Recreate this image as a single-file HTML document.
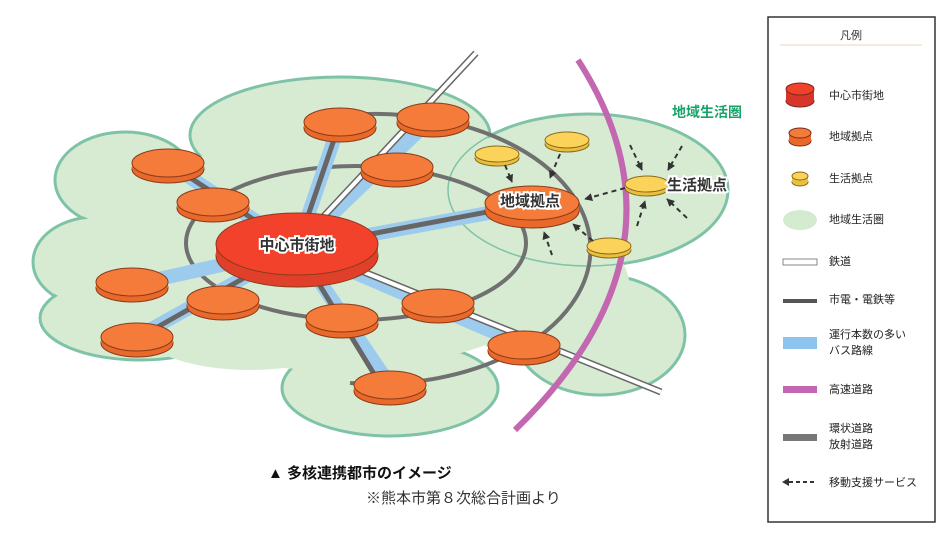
<!DOCTYPE html>
<html><head><meta charset="utf-8"><style>
html,body{margin:0;padding:0;background:#fff;}
svg{display:block;font-family:"Liberation Sans","Noto Sans CJK JP",sans-serif;}
</style></head><body>
<svg width="945" height="540" viewBox="0 0 945 540" xmlns="http://www.w3.org/2000/svg">
<defs>
<marker id="ah" viewBox="0 0 10 10" refX="9" refY="5" markerWidth="4" markerHeight="4" orient="auto"><path d="M0,0L10,5L0,10z" fill="#333"/></marker>
</defs>
<g fill="#d6ebd2" stroke="#7fc3a6" stroke-width="3">
<ellipse cx="340" cy="135" rx="150" ry="58"/>
<ellipse cx="125" cy="180" rx="70" ry="48"/>
<ellipse cx="95" cy="262" rx="62" ry="45"/>
<ellipse cx="140" cy="318" rx="100" ry="42"/>
<ellipse cx="390" cy="388" rx="108" ry="48"/>
<ellipse cx="600" cy="335" rx="85" ry="60"/>
<ellipse cx="588" cy="190" rx="140" ry="76"/>
</g>
<g fill="#d6ebd2">
<ellipse cx="340" cy="135" rx="148" ry="56"/>
<ellipse cx="125" cy="180" rx="68" ry="46"/>
<ellipse cx="95" cy="262" rx="60" ry="43"/>
<ellipse cx="140" cy="318" rx="98" ry="40"/>
<ellipse cx="390" cy="388" rx="106" ry="46"/>
<ellipse cx="600" cy="335" rx="83" ry="58"/>
<ellipse cx="330" cy="255" rx="250" ry="115"/>
<ellipse cx="540" cy="290" rx="90" ry="70"/>
<ellipse cx="250" cy="320" rx="120" ry="50"/>
</g>
<ellipse cx="588" cy="190" rx="140" ry="76" fill="none" stroke="#7fc3a6" stroke-width="1.5"/>
<ellipse cx="356" cy="243" rx="170" ry="77" fill="none" stroke="#707070" stroke-width="4"/>
<path d="M330,117 A215,135 0 1,1 350,383" fill="none" stroke="#707070" stroke-width="4"/>
<g stroke="#9ccbee" stroke-width="14" fill="none">
<line x1="297" y1="248" x2="340" y2="122"/>
<line x1="297" y1="248" x2="433" y2="117"/>
<line x1="297" y1="248" x2="168" y2="163"/>
<line x1="297" y1="248" x2="132" y2="285"/>
<line x1="297" y1="248" x2="137" y2="337"/>
<line x1="297" y1="248" x2="390" y2="385"/>
<line x1="297" y1="248" x2="532" y2="205"/>
<line x1="297" y1="248" x2="524" y2="345"/>
</g>
<g stroke="#666" stroke-width="5" fill="none">
<line x1="297" y1="248" x2="340" y2="122"/>
<line x1="297" y1="248" x2="168" y2="163"/>
<line x1="297" y1="248" x2="140" y2="337"/>
<line x1="297" y1="248" x2="382" y2="387"/>
<line x1="297" y1="248" x2="540" y2="202"/>
</g>
<g fill="none">
<polyline points="476,53 297,245 661,392" stroke="#666" stroke-width="7"/>
<polyline points="476,53 297,245 661,392" stroke="#fff" stroke-width="4"/>
</g>
<path d="M578,60 Q700,250 515,430" fill="none" stroke="#c267b0" stroke-width="6"/>
<g stroke="#8a3a1a" stroke-width="1">
<ellipse cx="340" cy="128" rx="36" ry="14" fill="#e8692a"/><rect x="304" y="122" width="72" height="6" fill="#e8692a" stroke="none"/><ellipse cx="340" cy="122" rx="36" ry="14" fill="#f47b3a"/>
<ellipse cx="433" cy="123" rx="36" ry="14" fill="#e8692a"/><rect x="397" y="117" width="72" height="6" fill="#e8692a" stroke="none"/><ellipse cx="433" cy="117" rx="36" ry="14" fill="#f47b3a"/>
<ellipse cx="397" cy="173" rx="36" ry="14" fill="#e8692a"/><rect x="361" y="167" width="72" height="6" fill="#e8692a" stroke="none"/><ellipse cx="397" cy="167" rx="36" ry="14" fill="#f47b3a"/>
<ellipse cx="168" cy="169" rx="36" ry="14" fill="#e8692a"/><rect x="132" y="163" width="72" height="6" fill="#e8692a" stroke="none"/><ellipse cx="168" cy="163" rx="36" ry="14" fill="#f47b3a"/>
<ellipse cx="213" cy="208" rx="36" ry="14" fill="#e8692a"/><rect x="177" y="202" width="72" height="6" fill="#e8692a" stroke="none"/><ellipse cx="213" cy="202" rx="36" ry="14" fill="#f47b3a"/>
<ellipse cx="132" cy="288" rx="36" ry="14" fill="#e8692a"/><rect x="96" y="282" width="72" height="6" fill="#e8692a" stroke="none"/><ellipse cx="132" cy="282" rx="36" ry="14" fill="#f47b3a"/>
<ellipse cx="223" cy="306" rx="36" ry="14" fill="#e8692a"/><rect x="187" y="300" width="72" height="6" fill="#e8692a" stroke="none"/><ellipse cx="223" cy="300" rx="36" ry="14" fill="#f47b3a"/>
<ellipse cx="137" cy="343" rx="36" ry="14" fill="#e8692a"/><rect x="101" y="337" width="72" height="6" fill="#e8692a" stroke="none"/><ellipse cx="137" cy="337" rx="36" ry="14" fill="#f47b3a"/>
<ellipse cx="342" cy="324" rx="36" ry="14" fill="#e8692a"/><rect x="306" y="318" width="72" height="6" fill="#e8692a" stroke="none"/><ellipse cx="342" cy="318" rx="36" ry="14" fill="#f47b3a"/>
<ellipse cx="438" cy="309" rx="36" ry="14" fill="#e8692a"/><rect x="402" y="303" width="72" height="6" fill="#e8692a" stroke="none"/><ellipse cx="438" cy="303" rx="36" ry="14" fill="#f47b3a"/>
<ellipse cx="390" cy="391" rx="36" ry="14" fill="#e8692a"/><rect x="354" y="385" width="72" height="6" fill="#e8692a" stroke="none"/><ellipse cx="390" cy="385" rx="36" ry="14" fill="#f47b3a"/>
<ellipse cx="524" cy="351" rx="36" ry="14" fill="#e8692a"/><rect x="488" y="345" width="72" height="6" fill="#e8692a" stroke="none"/><ellipse cx="524" cy="345" rx="36" ry="14" fill="#f47b3a"/>
<ellipse cx="532" cy="211" rx="47" ry="17" fill="#e8692a"/><rect x="485" y="203" width="94" height="8" fill="#e8692a" stroke="none"/><ellipse cx="532" cy="203" rx="47" ry="17" fill="#f47b3a"/>
<ellipse cx="297" cy="256" rx="81" ry="31" fill="#e0402a"/><rect x="216" y="244" width="162" height="12" fill="#e0402a" stroke="none"/><ellipse cx="297" cy="244" rx="81" ry="31" fill="#f2422c"/>
<g stroke="#8a6a1a">
<ellipse cx="497" cy="158" rx="22" ry="8" fill="#e8c040"/><rect x="475" y="154" width="44" height="4" fill="#e8c040" stroke="none"/><ellipse cx="497" cy="154" rx="22" ry="8" fill="#fcd35a"/>
<ellipse cx="567" cy="144" rx="22" ry="8" fill="#e8c040"/><rect x="545" y="140" width="44" height="4" fill="#e8c040" stroke="none"/><ellipse cx="567" cy="140" rx="22" ry="8" fill="#fcd35a"/>
<ellipse cx="647" cy="188" rx="22" ry="8" fill="#e8c040"/><rect x="625" y="184" width="44" height="4" fill="#e8c040" stroke="none"/><ellipse cx="647" cy="184" rx="22" ry="8" fill="#fcd35a"/>
<ellipse cx="609" cy="250" rx="22" ry="8" fill="#e8c040"/><rect x="587" y="246" width="44" height="4" fill="#e8c040" stroke="none"/><ellipse cx="609" cy="246" rx="22" ry="8" fill="#fcd35a"/>
</g>
</g>
<g stroke="#333" stroke-width="2" stroke-dasharray="5,4" fill="none" marker-end="url(#ah)">
<line x1="505" y1="165" x2="512" y2="182"/>
<line x1="560" y1="154" x2="550" y2="178"/>
<line x1="625" y1="188" x2="585" y2="199"/>
<line x1="593" y1="241" x2="573" y2="224"/>
<line x1="552" y1="255" x2="544" y2="232"/>
<line x1="630" y1="145" x2="642" y2="170"/>
<line x1="682" y1="146" x2="668" y2="170"/>
<line x1="637" y1="226" x2="645" y2="201"/>
<line x1="687" y1="218" x2="667" y2="199"/>
</g>
<g font-weight="bold" text-anchor="middle" font-size="15">
<text x="297" y="250" fill="#fff" stroke="#fff" stroke-width="4">中心市街地</text>
<text x="297" y="250" fill="#333">中心市街地</text>
<text x="530" y="206" fill="#fff" stroke="#fff" stroke-width="4">地域拠点</text>
<text x="530" y="206" fill="#333">地域拠点</text>
<text x="697" y="190" fill="#fff" stroke="#fff" stroke-width="4">生活拠点</text>
<text x="697" y="190" fill="#333">生活拠点</text>
<text x="707" y="117" fill="#17a36b" font-size="14">地域生活圏</text>
</g>
<text x="268" y="478" font-size="15" font-weight="bold" fill="#111">▲ 多核連携都市のイメージ</text>
<text x="366" y="503" font-size="15" fill="#333">※熊本市第８次総合計画より</text>
<rect x="768" y="17" width="167" height="505" fill="#fff" stroke="#333" stroke-width="1.5"/>
<text x="851" y="39" font-size="11" text-anchor="middle" fill="#333">凡例</text>
<line x1="780" y1="45" x2="922" y2="45" stroke="#efe6d2" stroke-width="1.5"/>
<g stroke="#7a2a1a" stroke-width="1">
<ellipse cx="800" cy="101" rx="14" ry="6" fill="#d8352a"/><rect x="786" y="89" width="28" height="12" fill="#d8352a" stroke="none"/><ellipse cx="800" cy="89" rx="14" ry="6" fill="#f2422c"/>
<ellipse cx="800" cy="141" rx="11" ry="5" fill="#e8692a"/><rect x="789" y="133" width="22" height="8" fill="#e8692a" stroke="none"/><ellipse cx="800" cy="133" rx="11" ry="5" fill="#f47b3a"/>
<ellipse cx="800" cy="182" rx="8" ry="4" fill="#e8c040" stroke="#8a6a1a"/><rect x="792" y="176" width="16" height="6" fill="#e8c040" stroke="none"/><ellipse cx="800" cy="176" rx="8" ry="4" fill="#fcd35a" stroke="#8a6a1a"/>
</g>
<ellipse cx="800" cy="220" rx="17" ry="10" fill="#d4ebd0"/>
<rect x="783" y="259" width="34" height="6" fill="#fff" stroke="#888" stroke-width="1"/>
<rect x="783" y="299" width="34" height="4" fill="#555"/>
<rect x="783" y="337" width="34" height="12" fill="#8dc4ee"/>
<rect x="783" y="386" width="34" height="7" fill="#c267b0"/>
<rect x="783" y="434" width="34" height="7" fill="#777"/>
<g stroke="#333" stroke-width="2" stroke-dasharray="4,3"><line x1="789" y1="482" x2="817" y2="482"/></g>
<path d="M782,482 L789,478 L789,486z" fill="#333"/>
<g font-size="11" fill="#222">
<text x="829" y="99">中心市街地</text>
<text x="829" y="140">地域拠点</text>
<text x="829" y="182">生活拠点</text>
<text x="829" y="223">地域生活圏</text>
<text x="829" y="265">鉄道</text>
<text x="829" y="303">市電・電鉄等</text>
<text x="829" y="338">運行本数の多い</text>
<text x="829" y="354">バス路線</text>
<text x="829" y="393">高速道路</text>
<text x="829" y="432">環状道路</text>
<text x="829" y="448">放射道路</text>
<text x="829" y="486">移動支援サービス</text>
</g>
</svg>
</body></html>
